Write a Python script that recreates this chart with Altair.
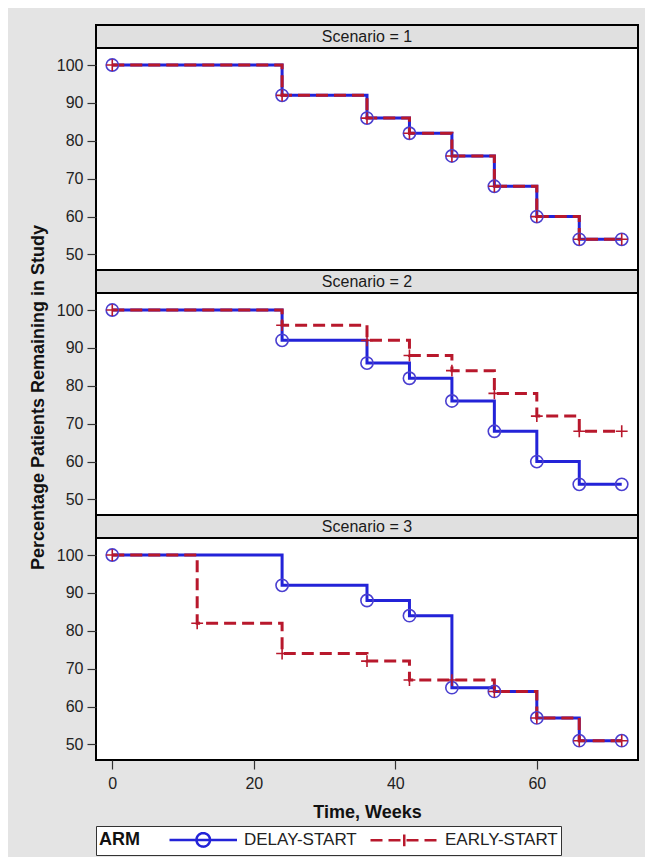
import altair as alt
import pandas as pd

# ---------------- data ----------------
scenarios = [1, 2, 3]
header_labels = ["Scenario = 1", "Scenario = 2", "Scenario = 3"]
arms = ["DELAY-START", "EARLY-START"]

times_std = [0, 24, 36, 42, 48, 54, 60, 66, 72]
s1_delay = [100, 92, 86, 82, 76, 68, 60, 54, 54]
s1_early = [100, 92, 86, 82, 76, 68, 60, 54, 54]
s2_delay = [100, 92, 86, 82, 76, 68, 60, 54, 54]
s2_early = [100, 96, 92, 88, 84, 78, 72, 68, 68]
s3_delay = [100, 92, 88, 84, 65, 64, 57, 51, 51]
times_s3_early = [0, 12, 24, 36, 42, 48, 54, 60, 66, 72]
s3_early = [100, 82, 74, 72, 67, 67, 64, 57, 51, 51]

x_ticks = [0, 20, 40, 60]
y_ticks = [50, 60, 70, 80, 90, 100]

series = [
    (1, arms[0], times_std, s1_delay),
    (1, arms[1], times_std, s1_early),
    (2, arms[0], times_std, s2_delay),
    (2, arms[1], times_std, s2_early),
    (3, arms[0], times_std, s3_delay),
    (3, arms[1], times_s3_early, s3_early),
]
rows = []
for sc, arm, ts, vs in series:
    for t, v in zip(ts, vs):
        rows.append({"Scenario": sc, "ARM": arm, "Time": t, "Pct": v})
df = pd.DataFrame(rows)

# ---------------- style ----------------
FONT = "Liberation Sans"
BLUE = "#2323d8"
RED = "#b8182c"
CIRC = "#4a3fd0"
BG = "#e4e4e4"
HEAD = "#e0e0e0"
W = 542
H_PLOT = 222
H_HEAD = 23
PLUS = "M-1,0H1M0,-1V1"

xscale = alt.Scale(domain=[-2.3, 74.3], nice=False, zero=False)
yscale = alt.Scale(domain=[45.9, 104.5], nice=False, zero=False)


def header(i):
    return (
        alt.Chart(pd.DataFrame({"label": [header_labels[i]]}))
        .mark_text(font=FONT, fontSize=16, color="#1a1a1a")
        .encode(text="label:N")
        .properties(width=W, height=H_HEAD,
                    view=alt.ViewBackground(fill=HEAD, stroke="black", strokeWidth=2))
    )


def panel(i):
    sc = scenarios[i]
    last = i == len(scenarios) - 1
    if last:
        xaxis = alt.Axis(values=x_ticks, title="Time, Weeks", tickSize=9,
                         labelPadding=6, titlePadding=12)
    else:
        xaxis = None
    ytitle = "Percentage Patients Remaining in Study" if sc == 2 else None
    yaxis = alt.Axis(values=y_ticks, title=ytitle, tickSize=9, labelPadding=4,
                     titlePadding=9, titleY=104)
    base = alt.Chart(df).transform_filter(alt.datum.Scenario == sc).encode(
        x=alt.X("Time:Q", scale=xscale, axis=xaxis),
        y=alt.Y("Pct:Q", scale=yscale, axis=yaxis),
    )
    delay = base.transform_filter(alt.datum.ARM == arms[0])
    early = base.transform_filter(alt.datum.ARM == arms[1])
    layers = [
        delay.mark_line(interpolate="step-after", color=BLUE, strokeWidth=3),
        early.mark_line(interpolate="step-after", color=RED, strokeWidth=3,
                        strokeDash=[12, 6]),
        delay.mark_point(shape="circle", size=150, color=CIRC, strokeWidth=1.6,
                         filled=False, opacity=1),
        early.mark_point(shape=PLUS, size=140, color=RED, strokeWidth=1.6,
                         filled=False, opacity=1),
    ]
    if last:
        leg = (
            alt.Chart(pd.DataFrame({"LegendArm": arms}))
            .transform_filter("false")
            .mark_point(filled=False, opacity=1, strokeWidth=2.5)
            .encode(
                color=alt.Color("LegendArm:N", title="ARM",
                                scale=alt.Scale(domain=arms, range=[BLUE, RED])),
                shape=alt.Shape("LegendArm:N", title="ARM",
                                scale=alt.Scale(domain=arms, range=[
                                    "M-1,0H6.5M3.5,0A0.75,0.75 0 1,1 2,0A0.75,0.75 0 1,1 3.5,0",
                                    "M2.75,-0.65V0.65M-1,0H6.5"])),
                strokeDash=alt.StrokeDash("LegendArm:N", title="ARM",
                                          scale=alt.Scale(domain=arms,
                                                          range=[[1, 0], [12, 6]])),
            )
        )
        layers.append(leg)
    return alt.layer(*layers).properties(
        width=W, height=H_PLOT,
        view=alt.ViewBackground(fill="white", stroke="black", strokeWidth=2))


parts = []
for i in range(len(scenarios)):
    parts.append(header(i))
    parts.append(panel(i))

chart = (
    alt.vconcat(*parts, spacing=0, bounds="flush")
    .properties(background=BG,
                padding={"left": 20, "top": 16, "right": 6, "bottom": 1})
    .configure_axis(labelFont=FONT, labelFontSize=16, labelColor="#222",
                    titleFont=FONT, titleFontSize=18, titleFontWeight="bold",
                    titleColor="#111", tickColor="#333", tickWidth=1.2,
                    domain=False, grid=False)
    .configure_legend(orient="bottom", direction="horizontal", titleOrient="left",
                      titleFont=FONT, titleFontSize=18, titleFontWeight="bold",
                      titleColor="#111", titlePadding=28,
                      labelFont=FONT, labelFontSize=17, labelColor="#222",
                      labelOffset=55, symbolSize=324, symbolStrokeWidth=2.5,
                      columnPadding=8, padding=3, offset=4,
                      strokeColor="#333", fillColor="white")
)

chart.save("out.html", embed_options={"renderer": "svg", "actions": False})
